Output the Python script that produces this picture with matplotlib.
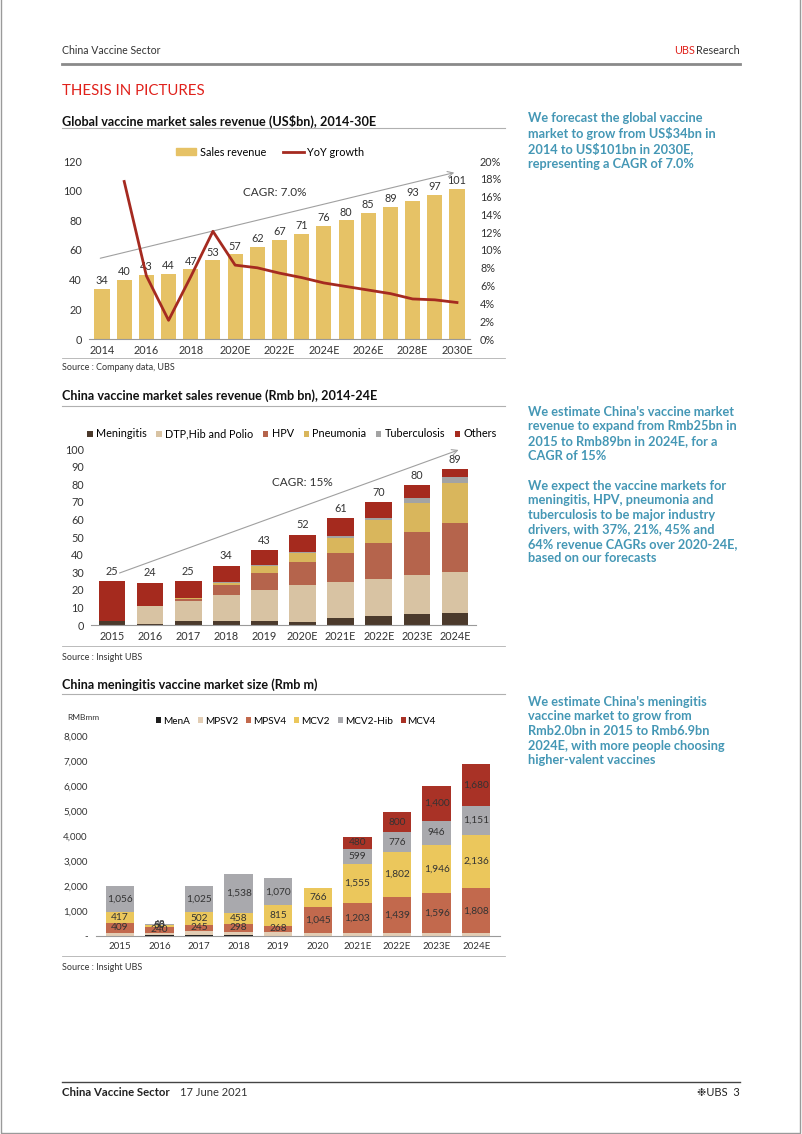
import numpy as np
import matplotlib.pyplot as plt
from matplotlib.patches import Patch, Rectangle
from matplotlib.lines import Line2D

plt.rcParams['font.family'] = ['Lato', 'DejaVu Sans']

W, H = 802, 1134

GOLD = "#E6C266"
DARK_RED = "#A52A20"
TEAL = "#4497B5"
TXT = "#333333"
RULE = "#B0B0B0"

# ---- chart 1: global vaccine market
years_global = ["2014", "2015", "2016", "2017", "2018", "2019", "2020E", "2021E", "2022E",
                "2023E", "2024E", "2025E", "2026E", "2027E", "2028E", "2029E", "2030E"]
sales_global = [34, 40, 43, 44, 47, 53, 57, 62, 67, 71, 76, 80, 85, 89, 93, 97, 101]
yoy_growth = [17.7, 7.1, 2.1, 7.0, 12.1, 8.3, 8.0, 7.4, 6.9, 6.3, 5.9, 5.5, 5.1, 4.5, 4.4, 4.1]  # from 2015

# ---- chart 2: China vaccine market by segment (Rmb bn)
years_china = ["2015", "2016", "2017", "2018", "2019", "2020E", "2021E", "2022E", "2023E", "2024E"]
segments = ["Meningitis", "DTP,Hib and Polio", "HPV", "Pneumonia", "Tuberculosis", "Others"]
meningitis = [2.0, 0.5, 2.0, 2.3, 2.3, 1.9, 4.0, 4.9, 6.0, 6.9]
dtp_hib_polio = [0.0, 10.2, 11.8, 14.6, 17.4, 20.6, 20.2, 21.0, 22.2, 23.0]
hpv = [0.0, 0.0, 1.0, 5.6, 9.8, 13.1, 16.5, 20.5, 24.5, 28.2]
pneumonia = [0.0, 0.0, 0.6, 1.5, 4.2, 5.3, 8.7, 13.1, 16.8, 22.6]
tuberculosis = [0.0, 0.0, 0.0, 0.3, 0.3, 0.4, 1.2, 1.3, 2.5, 3.4]
others = [23.0, 13.3, 9.6, 9.5, 8.5, 10.1, 10.0, 9.1, 7.4, 4.5]
china_totals = [25, 24, 25, 34, 43, 52, 61, 70, 80, 89]

# ---- chart 3: China meningitis vaccine market (Rmb m)
years_men = ["2015", "2016", "2017", "2018", "2019", "2020", "2021E", "2022E", "2023E", "2024E"]
men_types = ["MenA", "MPSV2", "MPSV4", "MCV2", "MCV2-Hib", "MCV4"]
men_a = [10, 60, 60, 40, 10, 5, 5, 5, 5, 5]
mpsv2 = [110, 80, 150, 140, 140, 110, 120, 120, 110, 100]
mpsv4 = [409, 240, 245, 298, 268, 1045, 1203, 1439, 1596, 1808]
mcv2 = [417, 50, 502, 458, 815, 766, 1555, 1802, 1946, 2136]
mcv2_hib = [1056, 48, 1025, 1538, 1070, 0, 599, 776, 946, 1151]
mcv4 = [0, 0, 0, 0, 0, 0, 480, 800, 1400, 1680]

fig = plt.figure(figsize=(W / 100, H / 100), dpi=100)


def fy(y):
    return 1 - y / H


def axes_px(left, top, right, bottom):
    return fig.add_axes([left / W, 1 - bottom / H, (right - left) / W, (bottom - top) / H])


def hrule(y, x0=62, x1=505, color=RULE, lw=0.8):
    fig.add_artist(Line2D([x0 / W, x1 / W], [fy(y), fy(y)], color=color, lw=lw))


def style(ax, size=7.5):
    for s in ["top", "left", "right"]:
        ax.spines[s].set_visible(False)
    ax.spines["bottom"].set_color("#9A9A9A")
    ax.tick_params(length=0, labelsize=size, colors=TXT)


# page frame, header, footer
fig.add_artist(Rectangle((0.001, 0.001), 0.997, 1.2, transform=fig.transFigure,
                         fill=False, ec="#9A9A9A", lw=1))
fig.text(62 / W, fy(51), "China Vaccine Sector", fontsize=7.6, color=TXT, va="center")
fig.text(740 / W, fy(51), "Research", fontsize=7.8, color=TXT, va="center", ha="right")
fig.text(695 / W, fy(51), "UBS", fontsize=7.8, color="#E0211B", va="center", ha="right")
hrule(64, 62, 740, "#8A8A8A", 2)
fig.text(62 / W, fy(91), "THESIS IN PICTURES", fontsize=10.8, color="#E0211B", va="center")
hrule(1082, 62, 740, "#444444", 1)
fig.text(62 / W, fy(1093), "China Vaccine Sector", fontsize=8.2, weight="bold", color="#222", va="center")
fig.text(180 / W, fy(1093), "17 June 2021", fontsize=8, color=TXT, va="center")
fig.text(740 / W, fy(1093), "\u2749UBS  3", fontsize=8, color="#222", va="center", ha="right")

# section titles
title_kw = dict(fontsize=9.1, weight="bold", color="#111", va="center")
fig.text(62 / W, fy(121), "Global vaccine market sales revenue (US$bn), 2014-30E", **title_kw)
hrule(128)
fig.text(62 / W, fy(396), "China vaccine market sales revenue (Rmb bn), 2014-24E", **title_kw)
hrule(406)
fig.text(62 / W, fy(685), "China meningitis vaccine market size (Rmb m)", **title_kw)
hrule(694)

# sources
hrule(358, lw=0.6)
fig.text(62 / W, fy(367), "Source : Company data, UBS", fontsize=6.5, color=TXT, va="center")
hrule(646, lw=0.6)
fig.text(62 / W, fy(657), "Source : Insight UBS", fontsize=6.5, color=TXT, va="center")
hrule(956, lw=0.6)
fig.text(62 / W, fy(967), "Source : Insight UBS", fontsize=6.5, color=TXT, va="center")

# side commentary
side_kw = dict(fontsize=9.2, weight="bold", color=TEAL, va="top", linespacing=1.25)
fig.text(528 / W, fy(112), "We forecast the global vaccine\nmarket to grow from US$34bn in\n"
         "2014 to US$101bn in 2030E,\nrepresenting a CAGR of 7.0%", **side_kw)
fig.text(528 / W, fy(406), "We estimate China's vaccine market\nrevenue to expand from Rmb25bn in\n"
         "2015 to Rmb89bn in 2024E, for a\nCAGR of 15%", **side_kw)
fig.text(528 / W, fy(480), "We expect the vaccine markets for\nmeningitis, HPV, pneumonia and\n"
         "tuberculosis to be major industry\ndrivers, with 37%, 21%, 45% and\n"
         "64% revenue CAGRs over 2020-24E,\nbased on our forecasts", **side_kw)
fig.text(528 / W, fy(696), "We estimate China's meningitis\nvaccine market to grow from\n"
         "Rmb2.0bn in 2015 to Rmb6.9bn\n2024E, with more people choosing\nhigher-valent vaccines", **side_kw)

# ================= chart 1
ax1 = axes_px(88.7, 161, 470.3, 339)
x1 = np.arange(len(years_global))
bars = ax1.bar(x1, sales_global, width=0.68, color=GOLD, zorder=2)
ax1.bar_label(bars, padding=2, fontsize=7.8, color=TXT)
ax1.set_xlim(-0.6, len(years_global) - 0.4)
ax1.set_ylim(0, 120)
ax1.set_yticks(range(0, 121, 20))
ax1.set_xticks(x1[::2])
ax1.set_xticklabels(years_global[::2])
style(ax1, 7.8)
ax1.tick_params(axis="y", pad=5)
ax1.tick_params(axis="x", pad=4)
ax1.annotate("", xy=(16, 112.6), xytext=(-0.2, 54),
             arrowprops=dict(arrowstyle="->", color="#A0A0A0", lw=0.8), zorder=3)
ax1.text(7.8, 99, "CAGR: 7.0%", ha="center", va="center", fontsize=8.5, color=TXT)

ax1b = ax1.twinx()
ax1b.plot(x1[1:], yoy_growth, color=DARK_RED, lw=2, zorder=4)
ax1b.set_ylim(0, 20)
ax1b.set_yticks(range(0, 21, 2))
ax1b.set_yticklabels([f"{v}%" for v in range(0, 21, 2)])
style(ax1b, 7.8)
ax1b.spines["bottom"].set_visible(False)
ax1b.tick_params(axis="y", pad=7)

fig.legend([Patch(color=GOLD), Line2D([], [], color=DARK_RED, lw=2)],
           ["Sales revenue", "YoY growth"], loc="center", bbox_to_anchor=(270 / W, fy(152)),
           ncol=2, frameon=False, fontsize=7.8, handlelength=1.9, handleheight=0.6,
           columnspacing=1.6, handletextpad=0.3)

# ================= chart 2
ax2 = axes_px(91, 449, 476, 625)
x2 = np.arange(len(years_china))
seg_values = [meningitis, dtp_hib_polio, hpv, pneumonia, tuberculosis, others]
seg_colors = ["#4B3A2C", "#D8C3A3", "#B5644C", "#D9B65C", "#A3A3A3", "#A52A1E"]
bottom = np.zeros(len(years_china))
for vals, col, name in zip(seg_values, seg_colors, segments):
    ax2.bar(x2, vals, bottom=bottom, width=0.7, color=col, label=name, zorder=2)
    bottom += np.array(vals)
for i, t in enumerate(china_totals):
    ax2.text(i, bottom[i] + 2.5, str(t), ha="center", va="bottom", fontsize=7.8, color=TXT)
ax2.set_xlim(-0.55, len(years_china) - 0.45)
ax2.set_ylim(0, 100)
ax2.set_yticks(range(0, 101, 10))
ax2.set_xticks(x2)
ax2.set_xticklabels(years_china)
style(ax2, 7.8)
ax2.tick_params(axis="y", pad=5)
ax2.tick_params(axis="x", pad=4)
ax2.annotate("", xy=(9.16, 100), xytext=(0.13, 29),
             arrowprops=dict(arrowstyle="->", color="#A0A0A0", lw=0.8), zorder=3,
             annotation_clip=False)
ax2.text(5.0, 80.7, "CAGR: 15%", ha="center", va="center", fontsize=8.5, color=TXT)
fig.legend(*ax2.get_legend_handles_labels(), loc="center", bbox_to_anchor=(292 / W, fy(434)),
           ncol=6, frameon=False, fontsize=7.8, handlelength=0.5, handleheight=0.5,
           columnspacing=0.9, handletextpad=0.3)

# ================= chart 3
ax3 = axes_px(96, 736, 500, 936)
x3 = np.arange(len(years_men))
men_values = [men_a, mpsv2, mpsv4, mcv2, mcv2_hib, mcv4]
men_colors = ["#1E1E1E", "#E2CDB4", "#C2694D", "#EBC75C", "#A9A9AD", "#A93226"]
labelled = {"MPSV4", "MCV2", "MCV2-Hib", "MCV4"}
bottom = np.zeros(len(years_men))
for vals, col, name in zip(men_values, men_colors, men_types):
    ax3.bar(x3, vals, bottom=bottom, width=0.72, color=col, label=name, zorder=2)
    if name in labelled:
        for i, v in enumerate(vals):
            if v > 0:
                ax3.text(i, bottom[i] + v / 2, f"{v:,}", ha="center", va="center",
                         fontsize=7.3, color=TXT, zorder=3)
    bottom += np.array(vals)
ax3.set_xlim(-0.6, len(years_men) - 0.4)
ax3.set_ylim(0, 8000)
ax3.set_yticks(range(0, 8001, 1000))
ax3.set_yticklabels(["-"] + [f"{v:,}" for v in range(1000, 8001, 1000)])
ax3.set_xticks(x3)
ax3.set_xticklabels(years_men)
style(ax3, 7)
ax3.tick_params(axis="y", pad=6)
ax3.tick_params(axis="x", pad=4)
fig.text(67 / W, fy(718), "RMBmm", fontsize=6, color=TXT, va="center")
fig.legend(*ax3.get_legend_handles_labels(), loc="center", bbox_to_anchor=(296 / W, fy(721)),
           ncol=6, frameon=False, fontsize=7.2, handlelength=0.5, handleheight=0.5,
           columnspacing=0.8, handletextpad=0.2)

fig.savefig("out.png", dpi=100)
